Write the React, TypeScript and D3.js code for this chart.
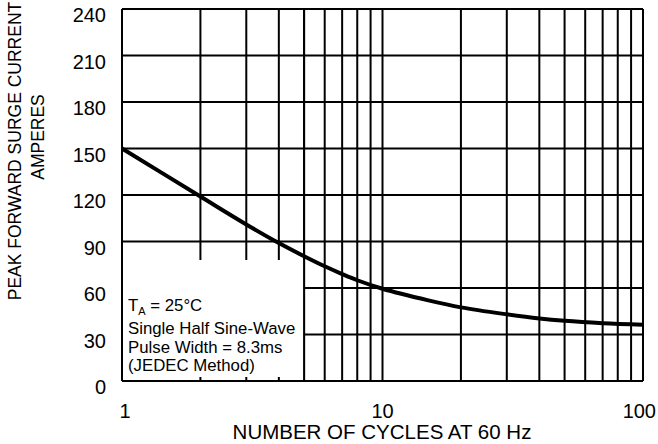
import React from "react";
import * as d3 from "d3";

const cycles = [1, 2, 3, 4, 5, 6, 7, 8, 10, 15, 20, 30, 40, 50, 70, 100];
const amps = [150, 119, 101, 89, 80.5, 74, 69, 65, 59.5, 52, 47.5, 43, 40.3, 38.8, 37.3, 36.3];
const yTicks = [0, 30, 60, 90, 120, 150, 180, 210, 240];
const xGrid = [1, 2, 3, 4, 5, 6, 7, 8, 9, 10, 20, 30, 40, 50, 60, 70, 80, 90, 100];
const xLabels = [1, 10, 100];
const yTitle1 = "PEAK FORWARD SURGE CURRENT";
const yTitle2 = "AMPERES";
const xTitle = "NUMBER OF CYCLES AT 60 Hz";
const noteLines = ["Single Half Sine-Wave", "Pulse Width = 8.3ms", "(JEDEC Method)"];

const W = 658;
const H = 444;
const L = 122;
const R = 643;
const T = 9;
const B = 381;
const FONT = "'Liberation Sans', Arial, sans-serif";

export default function App() {
  const x = d3.scaleLog().domain([1, 100]).range([L, R]);
  const y = d3.scaleLinear().domain([0, 240]).range([B, T]);
  const line = d3
    .line<number>()
    .x((_, i) => x(cycles[i]))
    .y((d) => y(d))
    .curve(d3.curveCatmullRom.alpha(0.5));
  const boxTop = 260;
  const boxRight = x(5);
  const xLabelPos = (v: number, i: number) => {
    if (i === 0) return { x: x(v) + 3, anchor: "middle" };
    if (i === xLabels.length - 1) return { x: W - 2, anchor: "end" };
    return { x: x(v), anchor: "middle" };
  };
  return (
    <svg width={W} height={H} style={{ position: "absolute", left: 0, top: 0 }} fontFamily={FONT}>
      <rect x={0} y={0} width={W} height={H} fill="#fff" />
      {/* grid */}
      {yTicks.map((v) => (
        <line key={"h" + v} x1={L} x2={R} y1={y(v)} y2={y(v)} stroke="#000" strokeWidth={2} />
      ))}
      {xGrid.map((v) => (
        <line key={"v" + v} x1={x(v)} x2={x(v)} y1={T} y2={B} stroke="#000" strokeWidth={2} />
      ))}
      {/* note box */}
      <rect x={L} y={boxTop} width={boxRight - L} height={B - boxTop} fill="#fff" />
      {[2, 3, 4].map((v) => (
        <line key={"s" + v} x1={x(v)} x2={x(v)} y1={B - 4} y2={B} stroke="#000" strokeWidth={2} />
      ))}
      <line x1={L} x2={L} y1={T} y2={B} stroke="#000" strokeWidth={2} />
      <line x1={L} x2={R} y1={B} y2={B} stroke="#000" strokeWidth={2} />
      <line x1={boxRight} x2={boxRight} y1={T} y2={B} stroke="#000" strokeWidth={2} />
      {/* curve */}
      <path d={line(amps) || ""} fill="none" stroke="#000" strokeWidth={4} />
      {/* note text */}
      <text x={128} y={311} fontSize={16.8} fill="#000">
        T<tspan fontSize={11} dy={4}>A</tspan>
        <tspan dy={-4}> = 25°C</tspan>
      </text>
      {noteLines.map((s, i) => (
        <text key={s} x={128} y={334 + i * 18.5} fontSize={16.8} fill="#000">
          {s}
        </text>
      ))}
      {/* y tick labels */}
      {yTicks.map((v) => (
        <text key={"yl" + v} x={106} y={y(v) + 13} fontSize={20} textAnchor="end" fill="#000">
          {v}
        </text>
      ))}
      {/* x tick labels */}
      {xLabels.map((v, i) => {
        const p = xLabelPos(v, i);
        return (
          <text key={"xl" + v} x={p.x} y={418} fontSize={20} textAnchor={p.anchor} fill="#000">
            {v}
          </text>
        );
      })}
      <text x={382} y={439} fontSize={20.5} textAnchor="middle" fill="#000">
        {xTitle}
      </text>
      <text transform={`translate(21,151) rotate(-90)`} fontSize={17.5} textAnchor="middle" fill="#000">
        {yTitle1}
      </text>
      <text transform={`translate(44,137) rotate(-90)`} fontSize={17.5} textAnchor="middle" fill="#000">
        {yTitle2}
      </text>
    </svg>
  );
}
